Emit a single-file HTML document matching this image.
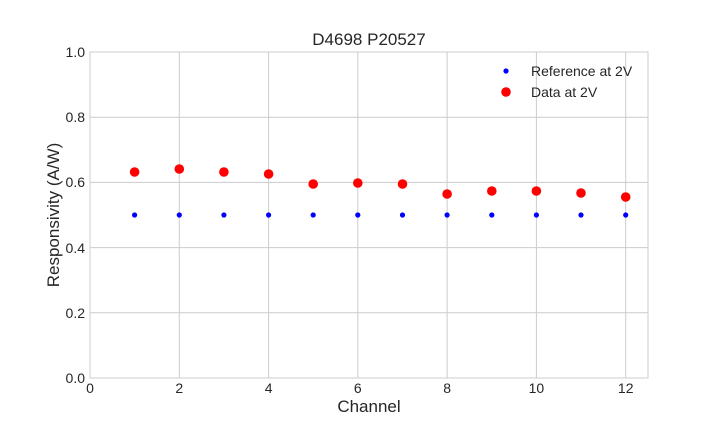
<!DOCTYPE html>
<html><head><meta charset="utf-8"><style>
body{margin:0;background:#fff;}
svg{display:block;font-family:"Liberation Sans",sans-serif;}
</style></head><body>
<svg width="720" height="432" viewBox="0 0 720 432">
<rect width="720" height="432" fill="#fff"/>
<g stroke="#cccccc" stroke-width="1">
<line x1="179.3" y1="52" x2="179.3" y2="378"/>
<line x1="268.6" y1="52" x2="268.6" y2="378"/>
<line x1="357.8" y1="52" x2="357.8" y2="378"/>
<line x1="447.1" y1="52" x2="447.1" y2="378"/>
<line x1="536.4" y1="52" x2="536.4" y2="378"/>
<line x1="625.7" y1="52" x2="625.7" y2="378"/>
<line x1="90" y1="312.8" x2="648" y2="312.8"/>
<line x1="90" y1="247.6" x2="648" y2="247.6"/>
<line x1="90" y1="182.4" x2="648" y2="182.4"/>
<line x1="90" y1="117.2" x2="648" y2="117.2"/>
</g>
<rect x="90" y="52" width="558" height="326" fill="none" stroke="#cccccc" stroke-width="1"/>
<g font-size="14" fill="#262626" text-anchor="middle">
<text x="90" y="393">0</text><text x="179.3" y="393">2</text><text x="268.6" y="393">4</text>
<text x="357.8" y="393">6</text><text x="447.1" y="393">8</text><text x="536.4" y="393">10</text><text x="625.7" y="393">12</text>
</g>
<g font-size="14" fill="#262626" text-anchor="end">
<text x="85" y="383">0.0</text><text x="85" y="318">0.2</text><text x="85" y="253">0.4</text>
<text x="85" y="187">0.6</text><text x="85" y="122">0.8</text><text x="85" y="57">1.0</text>
</g>
<text x="369" y="412" font-size="17" fill="#262626" text-anchor="middle">Channel</text>
<text x="59" y="215" font-size="17" fill="#262626" text-anchor="middle" transform="rotate(-90 59 215)">Responsivity (A/W)</text>
<text x="369" y="45" font-size="17" fill="#262626" text-anchor="middle">D4698 P20527</text>
<g fill="#0000ff">
<circle cx="134.6" cy="215" r="2.6"/><circle cx="179.3" cy="215" r="2.6"/><circle cx="223.9" cy="215" r="2.6"/>
<circle cx="268.6" cy="215" r="2.6"/><circle cx="313.2" cy="215" r="2.6"/><circle cx="357.8" cy="215" r="2.6"/>
<circle cx="402.5" cy="215" r="2.6"/><circle cx="447.1" cy="215" r="2.6"/><circle cx="491.8" cy="215" r="2.6"/>
<circle cx="536.4" cy="215" r="2.6"/><circle cx="581" cy="215" r="2.6"/><circle cx="625.7" cy="215" r="2.6"/>
<circle cx="506" cy="71" r="2.6"/>
</g>
<g fill="#ff0000">
<circle cx="134.6" cy="172" r="4.8"/><circle cx="179.3" cy="169" r="4.8"/><circle cx="223.9" cy="172" r="4.8"/>
<circle cx="268.6" cy="174" r="4.8"/><circle cx="313.2" cy="184" r="4.8"/><circle cx="357.8" cy="183" r="4.8"/>
<circle cx="402.5" cy="184" r="4.8"/><circle cx="447.1" cy="194" r="4.8"/><circle cx="491.8" cy="191" r="4.8"/>
<circle cx="536.4" cy="191" r="4.8"/><circle cx="581" cy="193" r="4.8"/><circle cx="625.7" cy="197" r="4.8"/>
<circle cx="506" cy="92" r="4.8"/>
</g>
<g font-size="14" fill="#262626">
<text x="531" y="76">Reference at 2V</text>
<text x="531" y="97">Data at 2V</text>
</g>
</svg>
</body></html>
